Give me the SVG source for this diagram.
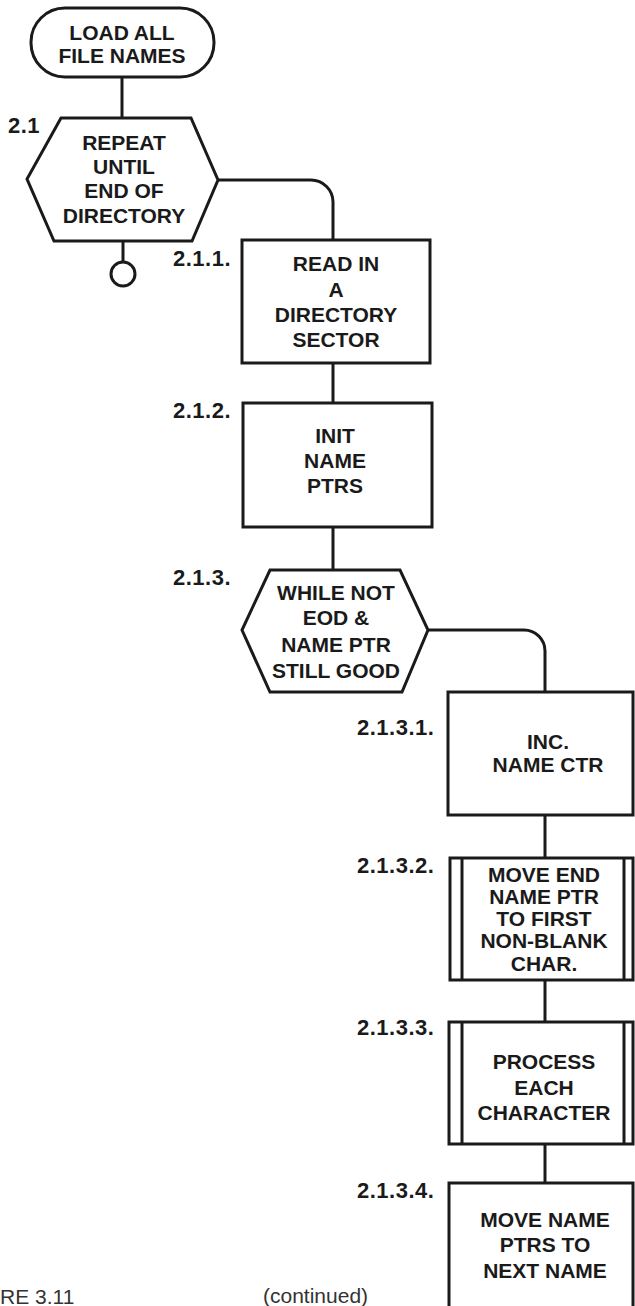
<svg xmlns="http://www.w3.org/2000/svg" width="635" height="1306" viewBox="0 0 635 1306">
<style>
.s{fill:#fff;stroke:#1a1a1a;stroke-width:3;stroke-linejoin:miter}
.c{fill:none;stroke:#1a1a1a;stroke-width:3}
.t{font-family:"Liberation Sans",Arial,sans-serif;font-weight:bold;font-size:21px;fill:#1a1a1a;text-anchor:middle}
.l{font-family:"Liberation Sans",Arial,sans-serif;font-weight:bold;font-size:22px;fill:#1a1a1a;letter-spacing:0.5px}
.f{font-family:"Liberation Sans",Arial,sans-serif;font-size:21px;fill:#333}
</style>
<rect width="635" height="1306" fill="#fff"/>
<g id="connectors">
<line class="c" x1="122" y1="77" x2="122" y2="118"/>
<path class="c" d="M218,180 H311 A22,22 0 0 1 333,202 V240"/>
<line class="c" x1="123" y1="241" x2="123" y2="262"/>
<circle class="c" cx="123" cy="274" r="12"/>
<line class="c" x1="333" y1="363" x2="333" y2="403"/>
<line class="c" x1="333" y1="527" x2="333" y2="570"/>
<path class="c" d="M428,630 H524 A21,21 0 0 1 545,651 V692"/>
<line class="c" x1="545" y1="815" x2="545" y2="858"/>
<line class="c" x1="545" y1="980" x2="545" y2="1022"/>
<line class="c" x1="545" y1="1144" x2="545" y2="1183"/>
</g>
<g id="n0">
<rect class="s" x="31" y="8" width="183" height="69" rx="34" ry="34"/>
<text class="t" x="122" y="40">LOAD ALL</text>
<text class="t" x="122" y="63">FILE NAMES</text>
</g>
<g id="n2_1">
<polygon class="s" points="61,118 191,118 218,180 192,241 54,241 27,179"/>
<text class="l" x="8" y="133">2.1</text>
<text class="t" x="124" y="150">REPEAT</text>
<text class="t" x="124" y="174">UNTIL</text>
<text class="t" x="124" y="198">END OF</text>
<text class="t" x="124" y="223">DIRECTORY</text>
</g>
<g id="n2_1_1">
<rect class="s" x="242" y="240" width="188" height="123"/>
<text class="l" x="173" y="266">2.1.1.</text>
<text class="t" x="336" y="271">READ IN</text>
<text class="t" x="336" y="297">A</text>
<text class="t" x="336" y="322">DIRECTORY</text>
<text class="t" x="336" y="347">SECTOR</text>
</g>
<g id="n2_1_2">
<rect class="s" x="243" y="403" width="189" height="124"/>
<text class="l" x="173" y="418">2.1.2.</text>
<text class="t" x="335" y="443">INIT</text>
<text class="t" x="335" y="468">NAME</text>
<text class="t" x="335" y="493">PTRS</text>
</g>
<g id="n2_1_3">
<polygon class="s" points="270,570 400,570 428,630 402,692 270,692 242,630"/>
<text class="l" x="173" y="585">2.1.3.</text>
<text class="t" x="336" y="600">WHILE NOT</text>
<text class="t" x="336" y="625">EOD &amp;</text>
<text class="t" x="336" y="652">NAME PTR</text>
<text class="t" x="336" y="678">STILL GOOD</text>
</g>
<g id="n2_1_3_1">
<rect class="s" x="448" y="692" width="185" height="123"/>
<text class="l" x="357" y="735">2.1.3.1.</text>
<text class="t" x="548" y="749">INC.</text>
<text class="t" x="548" y="772">NAME CTR</text>
</g>
<g id="n2_1_3_2">
<rect class="s" x="450" y="858" width="183" height="122"/>
<line class="c" x1="462" y1="858" x2="462" y2="980"/>
<line class="c" x1="624" y1="858" x2="624" y2="980"/>
<text class="l" x="357" y="873">2.1.3.2.</text>
<text class="t" x="544" y="882">MOVE END</text>
<text class="t" x="544" y="904">NAME PTR</text>
<text class="t" x="544" y="926">TO FIRST</text>
<text class="t" x="544" y="948">NON-BLANK</text>
<text class="t" x="544" y="971">CHAR.</text>
</g>
<g id="n2_1_3_3">
<rect class="s" x="449" y="1022" width="184" height="122"/>
<line class="c" x1="462" y1="1022" x2="462" y2="1144"/>
<line class="c" x1="624" y1="1022" x2="624" y2="1144"/>
<text class="l" x="357" y="1035">2.1.3.3.</text>
<text class="t" x="544" y="1069">PROCESS</text>
<text class="t" x="544" y="1095">EACH</text>
<text class="t" x="544" y="1120">CHARACTER</text>
</g>
<g id="n2_1_3_4">
<rect class="s" x="449" y="1183" width="184" height="140"/>
<text class="l" x="357" y="1198">2.1.3.4.</text>
<text class="t" x="545" y="1227">MOVE NAME</text>
<text class="t" x="545" y="1252">PTRS TO</text>
<text class="t" x="545" y="1278">NEXT NAME</text>
</g>
<text class="f" x="0" y="1304">RE 3.11</text>
<text class="f" x="263" y="1303">(continued)</text>
</svg>
